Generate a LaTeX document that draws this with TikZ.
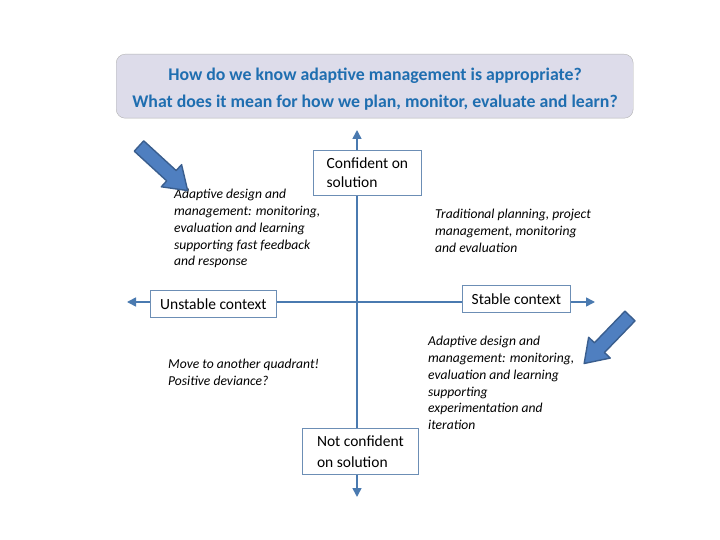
\documentclass[tikz,border=0pt]{standalone}
\usepackage{fontspec}
\setmainfont{Carlito}
\usetikzlibrary{arrows.meta}
\definecolor{axisblue}{HTML}{4A7AB0}
\definecolor{titleblue}{HTML}{1F6EB0}
\definecolor{titlefill}{HTML}{DDDCEA}
\definecolor{boxline}{HTML}{6C8EB5}
\definecolor{arrfill}{HTML}{4F7FC0}
\definecolor{arrline}{HTML}{3A5E8E}
\tikzset{
  axis/.style={draw=axisblue, line width=1.6pt, -{Triangle[length=9pt,width=9pt]}},
  labelbox/.style={draw=boxline, fill=white, line width=0.8pt, inner sep=7pt, align=left, font=\fontsize{15.5}{20}\selectfont, anchor=north west},
  note/.style={align=left, font=\fontsize{13.6}{16.8}\selectfont\itshape, anchor=north west, inner sep=0pt},
  blockarrow/.style={fill=arrfill, draw=arrline, line width=1.4pt, line join=round}
}
\begin{document}
\begin{tikzpicture}[x=1pt,y=-1pt]
\useasboundingbox (0,0) rectangle (720,540);
% title
\node[draw=gray!60, fill=titlefill, rounded corners=9pt, minimum width=517pt, minimum height=64pt, anchor=north west, inner sep=0pt] (title) at (116,54) {};
\node[text=titleblue, font=\fontsize{17.8}{27}\selectfont\bfseries, align=center] (ttext) at (375,89) {How do we know adaptive management is appropriate?\\What does it mean for how we plan, monitor, evaluate and learn?};
% axes
\coordinate (top) at (357,130);
\coordinate (bot) at (357,497);
\coordinate (left) at (127,302);
\coordinate (right) at (595,302);
\coordinate (mid) at (357,302);
\draw[axis] (mid) -- (top);
\draw[axis] (mid) -- (bot);
\draw[axis] (mid) -- (left);
\draw[axis] (mid) -- (right);
% boxes
\node[labelbox, minimum width=108pt, minimum height=45pt, inner sep=6pt] (conf) at (313,150) {Confident on\\[-1pt]solution};
\node[labelbox, minimum width=126pt, minimum height=27pt, inner sep=3pt, inner xsep=7pt] (unst) at (150,290) {Unstable context};
\node[labelbox, minimum width=108pt, minimum height=27pt, inner sep=3pt, inner xsep=7pt] (stab) at (462,285) {Stable context};
\node[labelbox, minimum width=116pt, minimum height=46pt, inner sep=6pt] (notc) at (302,428) {Not confident\\[1pt]on solution};
% notes
\node[note] (n1) at (174,189) {Adaptive design and\\management: monitoring,\\evaluation and learning\\supporting fast feedback\\and response};
\node[note] (n2) at (435,209) {Traditional planning, project\\management, monitoring\\and evaluation};
\node[note] (n3) at (168,359) {Move to another quadrant!\\Positive deviance?};
\node[note] (n4) at (428,336) {Adaptive design and\\management: monitoring,\\evaluation and learning\\supporting\\experimentation and\\iteration};
% block arrows
\begin{scope}[shift={(139,146)}, rotate=-42.5]
\path[blockarrow] (0,-7) -- (44,-7) -- (44,-15) -- (66,0) -- (44,15) -- (44,7) -- (0,7) -- cycle;
\end{scope}
\begin{scope}[shift={(630,316)}, rotate=-134]
\path[blockarrow] (0,-7) -- (44,-7) -- (44,-15) -- (66,0) -- (44,15) -- (44,7) -- (0,7) -- cycle;
\end{scope}
\end{tikzpicture}
\end{document}
